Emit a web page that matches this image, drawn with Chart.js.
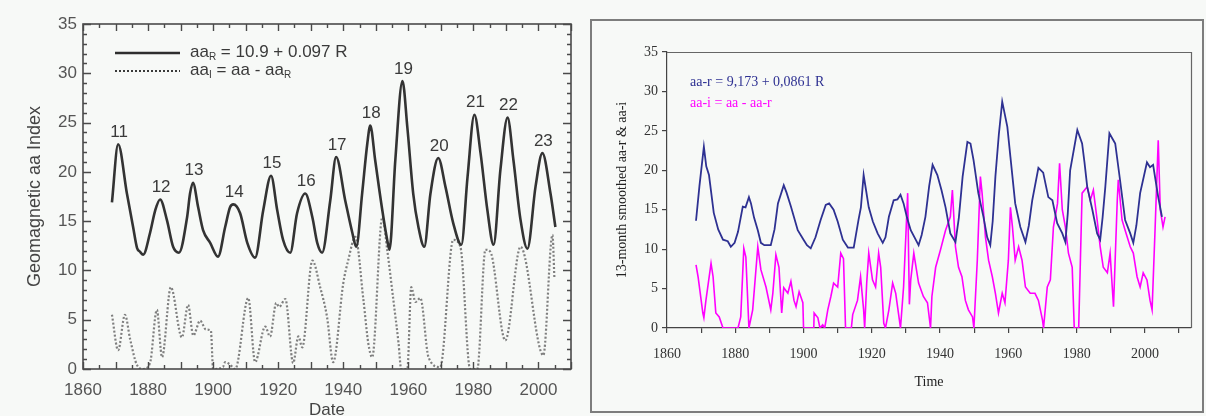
<!DOCTYPE html>
<html>
<head>
<meta charset="utf-8">
<script src="https://cdn.jsdelivr.net/npm/chart.js@4.4.1/dist/chart.umd.min.js"></script>
<style>
  body { margin: 0; background: #f7f9f7; width: 1206px; height: 416px; overflow: hidden; position: relative; }
  #leftChart { position: absolute; left: 0; top: 0; }
  #panel { position: absolute; left: 590px; top: 19px; width: 610px; height: 390px; border: 2px solid #7d7d7d; }
  #rightChart { position: absolute; left: 0; top: 0; }
</style>
</head>
<body>
<canvas id="leftChart" width="585" height="424"></canvas>
<div id="panel"><canvas id="rightChart" width="610" height="390"></canvas></div>
<script>
// ---- left panel: aa_R (solar part) and aa_I (residual) ----
const aaRYears = [1868.9, 1870.8, 1873.5, 1875.4, 1876.6, 1877.5, 1878.5, 1880.6, 1882.2, 1883.7,
  1885.8, 1887.7, 1889.5, 1892.0, 1892.9, 1893.8, 1895.4, 1896.9, 1899.1, 1901.5,
  1903.7, 1905.2, 1906.2, 1908.3, 1910.5, 1912.9, 1915.4, 1917.8, 1919.7, 1921.5,
  1923.7, 1925.8, 1928.3, 1930.5, 1932.0, 1933.5, 1936.0, 1937.8, 1940.6, 1942.8,
  1944.0, 1945.8, 1947.4, 1948.3, 1949.8, 1952.0, 1953.5, 1954.2, 1956.0, 1958.2,
  1959.7, 1961.5, 1963.1, 1964.9, 1966.8, 1969.2, 1971.4, 1973.8, 1976.3, 1978.2,
  1980.3, 1982.2, 1984.3, 1986.2, 1988.3, 1990.5, 1992.3, 1994.5, 1996.6, 1999.1,
  2001.2, 2003.7, 2005.2];
const aaRValues = [16.9, 22.8, 17.8, 14.4, 12.3, 11.9, 11.6, 13.8, 16.1, 17.2,
  15.1, 12.4, 11.8, 15.4, 17.8, 18.9, 16.4, 14.1, 12.8, 11.4,
  14.4, 16.4, 16.7, 15.8, 12.8, 11.3, 16.1, 19.6, 16.1, 13.1,
  11.8, 15.8, 17.8, 15.4, 12.8, 11.8, 17.1, 21.5, 17.1, 13.8,
  12.4, 17.8, 22.9, 24.7, 21.2, 16.1, 13.1, 12.1, 21.2, 29.2,
  24.5, 17.8, 14.4, 12.4, 17.8, 21.4, 18.5, 14.8, 12.6, 19.5,
  25.8, 21.9, 16.1, 12.6, 20.2, 25.5, 21.2, 15.1, 12.2, 18.5,
  21.9, 17.8, 14.4];

const aaIYears = [1868.9, 1870.8, 1872.9, 1874.5, 1876.6, 1878.5, 1880.6, 1882.7, 1884.3, 1887.0,
  1890.4, 1892.3, 1893.9, 1896.0, 1897.8, 1899.3, 1900.0, 1903.0, 1903.7, 1905.0,
  1906.8, 1910.8, 1912.9, 1916.0, 1917.5, 1919.4, 1920.3, 1922.2, 1924.6, 1926.2,
  1927.4, 1930.5, 1932.9, 1935.0, 1936.9, 1940.0, 1941.5, 1943.7, 1946.2, 1947.7,
  1948.9, 1952.0, 1953.5, 1955.4, 1957.0, 1957.8, 1959.7, 1960.9, 1962.2, 1963.7,
  1966.2, 1969.8, 1973.8, 1976.0, 1979.0, 1981.2, 1983.7, 1985.2, 1989.8, 1994.5,
  2001.5, 2004.3, 2004.9];
const aaIValues = [5.5, 1.9, 5.5, 3.0, 0.4, 0.0, 0.6, 6.0, 1.2, 8.3,
  3.2, 6.5, 3.4, 4.9, 4.0, 3.9, 0.0, 0.2, 0.7, 0.5,
  0.0, 7.2, 0.7, 4.3, 3.3, 6.7, 6.3, 7.1, 0.6, 3.3,
  2.2, 11.0, 8.3, 5.3, 0.7, 8.7, 11.0, 13.4, 7.0, 2.6,
  1.2, 15.4, 12.1, 7.0, 2.6, 0.0, 0.0, 8.3, 6.8, 7.2,
  1.2, 0.2, 13.1, 12.4, 0.0, 0.0, 12.1, 11.9, 2.9, 12.4,
  1.4, 13.6, 9.2];

// solar cycle numbers, placed over the aa_R maximum of each cycle
const cycleNames = ['11', '12', '13', '14', '15', '16', '17', '18', '19', '20', '21', '22', '23'];
const cyclePeakYears = [1870.8, 1883.7, 1893.8, 1906.2, 1917.8, 1928.3, 1937.8, 1948.3, 1958.2, 1969.2, 1980.3, 1990.5, 2001.2];

const leftXTicks = [1860, 1880, 1900, 1920, 1940, 1960, 1980, 2000];
const leftYTicks = [0, 5, 10, 15, 20, 25, 30, 35];

// ---- right panel: 13-month smoothed aa-r and aa-i ----
const aarYears = [1868.5, 1869.5, 1870.8, 1871.5, 1872.3, 1873.7, 1875.0, 1876.4, 1877.8, 1878.7,
  1879.8, 1880.8, 1882.2, 1883.0, 1884.0, 1884.6, 1885.5, 1886.6, 1887.5, 1888.5,
  1890.4, 1891.5, 1892.5, 1894.2, 1895.0, 1896.3, 1898.3, 1900.0, 1901.0, 1902.1,
  1903.5, 1905.0, 1906.5, 1907.5, 1908.8, 1910.0, 1911.5, 1913.0, 1914.7, 1916.1,
  1916.8, 1917.6, 1918.3, 1919.1, 1920.3, 1921.7, 1923.2, 1924.0, 1925.0, 1926.4,
  1927.5, 1928.4, 1929.3, 1930.3, 1931.4, 1933.7, 1934.6, 1935.7, 1936.8, 1937.8,
  1939.2, 1940.4, 1941.6, 1943.0, 1944.5, 1945.5, 1946.6, 1948.0, 1948.9, 1949.8,
  1951.2, 1952.7, 1953.8, 1954.7, 1955.4, 1956.2, 1957.2, 1958.2, 1959.7, 1960.6,
  1962.0, 1963.5, 1965.0, 1966.0, 1967.0, 1968.8, 1970.2, 1971.7, 1972.9, 1974.3,
  1975.8, 1976.7, 1977.4, 1978.1, 1980.2, 1981.6, 1982.3, 1983.1, 1984.6, 1986.0,
  1986.9, 1987.6, 1988.4, 1989.6, 1990.5, 1991.3, 1992.7, 1994.2, 1995.7, 1996.6,
  1997.5, 1998.6, 2000.6, 2001.5, 2002.4, 2003.9, 2005.0];
const aarValues = [13.6, 18.0, 23.0, 20.5, 19.4, 14.6, 12.5, 11.2, 11.0, 10.3,
  10.8, 12.2, 15.4, 15.3, 16.6, 15.8, 14.0, 12.4, 10.8, 10.5,
  10.5, 12.5, 15.8, 18.1, 17.2, 15.4, 12.4, 11.2, 10.5, 10.1,
  11.5, 13.7, 15.6, 15.8, 15.0, 13.5, 11.2, 10.2, 10.2, 13.7,
  15.3, 19.4, 17.5, 15.3, 13.5, 12.0, 10.8, 11.5, 14.1, 16.2,
  16.3, 16.9, 15.8, 14.0, 12.4, 10.5, 11.8, 14.1, 18.0, 20.7,
  19.4, 17.5, 15.3, 12.0, 10.9, 14.0, 19.2, 23.6, 23.4, 21.3,
  17.1, 14.1, 11.5, 10.5, 13.5, 19.2, 24.5, 28.7, 25.5, 21.7,
  15.8, 12.8, 10.9, 13.0, 16.2, 20.3, 19.7, 16.6, 16.2, 13.3,
  12.0, 10.9, 14.5, 20.0, 25.1, 23.4, 21.0, 17.9, 15.0, 12.0,
  11.2, 14.0, 17.9, 24.7, 24.0, 23.4, 18.8, 13.7, 12.0, 10.8,
  13.0, 17.1, 21.0, 20.4, 20.7, 16.6, 14.1];

const aaiYears = [1868.5, 1869.1, 1870.5, 1870.8, 1871.4, 1872.9, 1873.5, 1874.3, 1875.3, 1876.4,
  1880.8, 1881.6, 1882.5, 1883.1, 1884.0, 1885.1, 1886.6, 1887.5, 1889.0, 1890.4,
  1891.0, 1891.9, 1892.8, 1893.6, 1894.2, 1895.4, 1896.3, 1897.2, 1897.8, 1898.7,
  1899.8, 1900.0, 1903.0, 1903.1, 1904.2, 1904.8, 1905.6, 1906.2, 1907.1, 1908.0,
  1908.8, 1910.0, 1910.9, 1911.7, 1912.3, 1914.0, 1914.4, 1915.8, 1916.7, 1917.6,
  1917.9, 1918.5, 1919.1, 1920.2, 1921.1, 1922.0, 1922.6, 1923.5, 1924.0, 1925.0,
  1926.1, 1927.0, 1927.8, 1928.4, 1929.3, 1930.0, 1930.5, 1931.0, 1931.4, 1932.3,
  1933.7, 1935.1, 1936.3, 1937.2, 1937.6, 1938.7, 1940.1, 1941.6, 1943.0, 1943.6,
  1944.5, 1945.4, 1946.4, 1947.4, 1948.3, 1949.5, 1949.9, 1950.9, 1951.8, 1952.3,
  1953.3, 1954.2, 1955.3, 1956.2, 1957.1, 1958.2, 1959.0, 1960.0, 1960.6, 1961.2,
  1962.0, 1963.0, 1964.0, 1965.0, 1966.4, 1967.8, 1968.8, 1970.0, 1970.3, 1971.4,
  1972.3, 1973.2, 1974.4, 1975.0, 1975.8, 1976.7, 1977.6, 1978.7, 1979.3, 1980.6,
  1981.1, 1981.6, 1983.1, 1984.0, 1984.9, 1986.0, 1986.9, 1987.8, 1989.0, 1989.8,
  1990.8, 1991.9, 1992.2, 1993.3, 1994.2, 1995.7, 1996.6, 1997.7, 1998.6, 1999.5,
  2000.6, 2001.5, 2002.1, 2003.0, 2003.9, 2004.5, 2005.3, 2005.9];
const aaiValues = [8.0, 6.5, 1.9, 1.3, 3.5, 8.2, 6.5, 1.9, 1.4, 0.0,
  0.0, 1.4, 10.1, 9.0, 0.0, 2.3, 10.3, 7.4, 5.2, 2.3,
  4.4, 9.3, 7.7, 1.9, 5.1, 4.4, 5.9, 3.5, 2.7, 4.6,
  3.2, 0.0, 0.0, 1.9, 1.3, 0.0, 0.4, 0.0, 2.3, 4.0,
  5.7, 5.2, 9.5, 8.8, 0.0, 0.0, 1.7, 3.5, 6.5, 2.3,
  0.0, 5.7, 9.5, 6.1, 5.2, 9.5, 7.7, 0.6, 0.0, 2.3,
  5.7, 4.4, 1.9, 0.0, 5.2, 12.0, 17.1, 3.0, 6.1, 9.5,
  5.7, 4.0, 3.2, 0.0, 4.0, 7.7, 9.9, 12.4, 14.1, 17.5,
  10.3, 7.7, 6.5, 3.5, 2.3, 1.4, 0.0, 8.6, 19.2, 17.1,
  11.5, 8.6, 6.5, 4.4, 1.9, 4.4, 3.2, 8.6, 15.3, 12.8,
  8.6, 10.3, 8.6, 5.2, 4.4, 4.4, 3.5, 1.0, 0.0, 5.2,
  6.1, 12.8, 15.8, 20.9, 15.0, 12.8, 9.5, 7.7, 0.0, 0.0,
  8.6, 17.1, 17.9, 16.2, 17.5, 13.7, 10.3, 7.7, 7.0, 9.5,
  2.7, 16.2, 18.8, 13.7, 12.4, 10.3, 9.5, 6.5, 5.2, 7.0,
  6.1, 3.5, 2.3, 12.8, 23.8, 15.0, 12.8, 14.1];

const rightYTicks = [0, 5, 10, 15, 20, 25, 30, 35];
const rightXLabels = [1860, 1880, 1900, 1920, 1940, 1960, 1980, 2000];

const toPoints = (xs, ys) => xs.map((x, i) => ({ x: x, y: ys[i] }));

const sans = '"Liberation Sans", Arial, sans-serif';
const serif = '"Liberation Serif", "Times New Roman", serif';

// frame, inward ticks, legend and cycle numbers for the left plot
const leftDecor = {
  id: 'leftDecor',
  afterDraw(chart) {
    const { ctx, chartArea: a, scales: { x, y } } = chart;
    ctx.save();
    ctx.strokeStyle = '#4a4a4a';
    ctx.lineWidth = 1.6;
    ctx.strokeRect(a.left, a.top, a.right - a.left, a.bottom - a.top);

    ctx.lineWidth = 1.4;
    ctx.beginPath();
    for (let v = 0; v <= 35; v++) {
      const py = Math.round(y.getPixelForValue(v)) + 0.5;
      const len = v % 5 === 0 ? 8 : 4;
      ctx.moveTo(a.left, py); ctx.lineTo(a.left + len, py);
      ctx.moveTo(a.right, py); ctx.lineTo(a.right - len, py);
    }
    for (let yr = 1860; yr <= 2010; yr += 5) {
      const px = Math.round(x.getPixelForValue(yr)) + 0.5;
      const len = yr % 10 === 0 ? 7 : 4;
      ctx.moveTo(px, a.bottom); ctx.lineTo(px, a.bottom - len);
      ctx.moveTo(px, a.top); ctx.lineTo(px, a.top + len);
    }
    ctx.stroke();

    // cycle numbers
    ctx.fillStyle = '#3a3a3a';
    ctx.font = '17px ' + sans;
    ctx.textAlign = 'center';
    ctx.textBaseline = 'middle';
    cyclePeakYears.forEach((yr, i) => {
      let best = 0;
      aaRYears.forEach((ry, j) => { if (Math.abs(ry - yr) < 2 && aaRValues[j] > best) best = aaRValues[j]; });
      ctx.fillText(cycleNames[i], x.getPixelForValue(yr) + 1, y.getPixelForValue(best) - 12);
    });

    // legend
    const lx = a.left + 32, tx = a.left + 107;
    const ly1 = a.top + 29, ly2 = a.top + 47;
    ctx.strokeStyle = '#2e2e2e';
    ctx.lineWidth = 2.6;
    ctx.beginPath(); ctx.moveTo(lx, ly1); ctx.lineTo(lx + 65, ly1); ctx.stroke();
    ctx.strokeStyle = '#3a3a3a';
    ctx.lineWidth = 2;
    ctx.setLineDash([2, 2]);
    ctx.beginPath(); ctx.moveTo(lx, ly2); ctx.lineTo(lx + 65, ly2); ctx.stroke();
    ctx.setLineDash([]);

    const runs = (parts, x0, y0) => {
      let cx = x0;
      ctx.textAlign = 'left';
      ctx.textBaseline = 'alphabetic';
      parts.forEach(([txt, sub]) => {
        ctx.font = (sub ? '10px ' : '17px ') + sans;
        ctx.fillText(txt, cx, y0 + (sub ? 3 : 0));
        cx += ctx.measureText(txt).width;
      });
    };
    ctx.fillStyle = '#3a3a3a';
    runs([['aa', false], ['R', true], [' = 10.9 + 0.097 R', false]], tx, ly1 + 4);
    runs([['aa', false], ['I', true], [' = aa - aa', false], ['R', true]], tx, ly2 + 4);
    ctx.restore();
  }
};

new Chart(document.getElementById('leftChart'), {
  type: 'line',
  data: {
    datasets: [
      {
        data: toPoints(aaRYears, aaRValues),
        borderColor: '#333333', borderWidth: 2.6,
        pointRadius: 0, cubicInterpolationMode: 'monotone'
      },
      {
        data: toPoints(aaIYears, aaIValues),
        borderColor: '#7f7f7f', borderWidth: 2.2, borderDash: [2, 2],
        pointRadius: 0, cubicInterpolationMode: 'monotone'
      }
    ]
  },
  options: {
    responsive: false,
    animation: false,
    layout: { padding: { left: 0, top: 24, right: 14, bottom: 0 } },
    plugins: { legend: { display: false }, tooltip: { enabled: false } },
    scales: {
      x: {
        type: 'linear', min: 1860, max: 2010,
        afterFit: (s) => { s.height = 55; },
        afterBuildTicks: (s) => { s.ticks = leftXTicks.map(v => ({ value: v })); },
        grid: { display: false, drawTicks: false },
        border: { display: false },
        ticks: {
          color: '#555', font: { family: sans, size: 17 }, padding: 11, autoSkip: false, maxRotation: 0,
          callback: (v) => String(v)
        },
        title: { display: true, text: 'Date', color: '#444', font: { family: sans, size: 17 }, padding: { top: 0, bottom: 3 } }
      },
      y: {
        min: 0, max: 35,
        afterFit: (s) => { s.width = 83; },
        afterBuildTicks: (s) => { s.ticks = leftYTicks.map(v => ({ value: v })); },
        grid: { display: false, drawTicks: false },
        border: { display: false },
        ticks: { color: '#555', font: { family: sans, size: 17 }, padding: 6 },
        title: { display: true, text: 'Geomagnetic aa Index', color: '#444', font: { family: sans, size: 18 }, padding: { top: 24, bottom: 0 } }
      }
    }
  },
  plugins: [leftDecor]
});

// box edges and equation text for the right plot
const rightDecor = {
  id: 'rightDecor',
  afterDraw(chart) {
    const { ctx, chartArea: a } = chart;
    ctx.save();
    ctx.strokeStyle = '#666';
    ctx.lineWidth = 1.2;
    ctx.beginPath();
    ctx.moveTo(a.left, a.top + 0.5); ctx.lineTo(a.right + 0.5, a.top + 0.5); ctx.lineTo(a.right + 0.5, a.bottom);
    ctx.stroke();

    ctx.font = '14px ' + serif;
    ctx.textAlign = 'left';
    ctx.textBaseline = 'middle';
    ctx.fillStyle = '#2e3192';
    ctx.fillText('aa-r = 9,173 + 0,0861 R', a.left + 23, a.top + 30);
    ctx.fillStyle = '#ff00ff';
    ctx.fillText('aa-i = aa - aa-r', a.left + 23, a.top + 51);
    ctx.restore();
  }
};

new Chart(document.getElementById('rightChart'), {
  type: 'line',
  data: {
    datasets: [
      {
        data: toPoints(aarYears, aarValues),
        borderColor: '#2e3192', borderWidth: 1.8, pointRadius: 0, tension: 0
      },
      {
        data: toPoints(aaiYears, aaiValues),
        borderColor: '#ff00ff', borderWidth: 1.6, pointRadius: 0, tension: 0
      }
    ]
  },
  options: {
    responsive: false,
    animation: false,
    layout: { padding: { left: 0, top: 31, right: 11, bottom: 0 } },
    plugins: { legend: { display: false }, tooltip: { enabled: false } },
    scales: {
      x: {
        type: 'linear', min: 1860, max: 2013.5,
        afterFit: (s) => { s.height = 83; },
        afterBuildTicks: (s) => {
          const t = [];
          for (let v = 1860; v <= 2010; v += 10) t.push({ value: v });
          s.ticks = t;
        },
        grid: { drawOnChartArea: false, drawTicks: true, tickLength: 5, color: '#444', lineWidth: 1.2 },
        border: { display: true, color: '#444', width: 1.2 },
        ticks: {
          color: '#333', font: { family: serif, size: 14 }, padding: 13, autoSkip: false, maxRotation: 0,
          callback: (v) => rightXLabels.includes(v) ? String(v) : ''
        },
        title: { display: true, text: 'Time', color: '#222', font: { family: serif, size: 14 }, padding: { top: 0, bottom: 20 } }
      },
      y: {
        min: 0, max: 35,
        afterFit: (s) => { s.width = 75; },
        afterBuildTicks: (s) => { s.ticks = rightYTicks.map(v => ({ value: v })); },
        grid: { drawOnChartArea: false, drawTicks: true, tickLength: 5, color: '#444', lineWidth: 1.2 },
        border: { display: true, color: '#444', width: 1.2 },
        ticks: { color: '#333', font: { family: serif, size: 14 }, padding: 4 },
        title: { display: true, text: '13-month smoothed aa-r & aa-i', color: '#222', font: { family: serif, size: 14 }, padding: { top: 22, bottom: 0 } }
      }
    }
  },
  plugins: [rightDecor]
});
</script>
</body>
</html>
